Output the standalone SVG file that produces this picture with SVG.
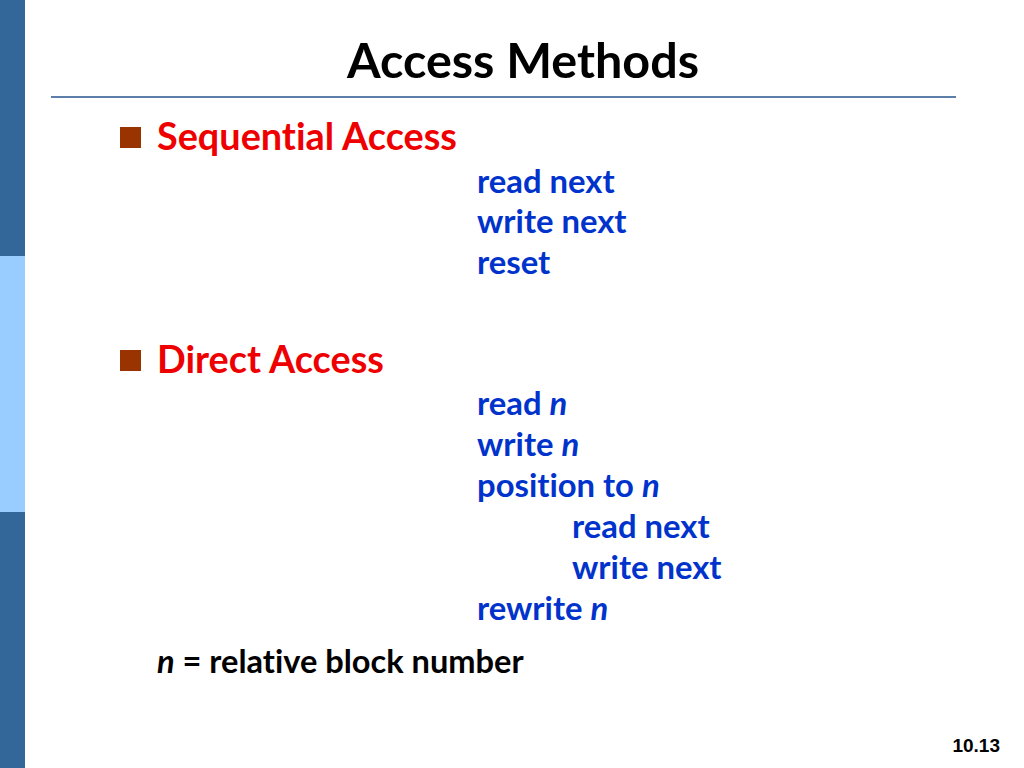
<svg xmlns="http://www.w3.org/2000/svg" width="1024" height="768" viewBox="0 0 1024 768">
<style>
.t{font-family:Lato,"Open Sans","Liberation Sans",sans-serif;font-weight:bold;font-variant-ligatures:none;font-feature-settings:"liga" 0}
.title{font-size:48.5px;fill:#000}
.h{font-size:37.8px;fill:#ee0000}
.b{font-size:32.8px;fill:#0033cc}
.k{font-size:32.6px;fill:#000}
.i{font-style:italic}
.bul{fill:#993300}
</style>
<rect width="1024" height="768" fill="#fff"/>
<g id="sidebar">
<rect x="0" y="0" width="25" height="256" fill="#336699"/>
<rect x="0" y="256" width="25" height="256" fill="#99ccff"/>
<rect x="0" y="512" width="25" height="256" fill="#336699"/>
</g>
<g id="title">
<text class="t title" x="523" y="78" text-anchor="middle">Access Methods</text>
<line x1="51" y1="97" x2="956" y2="97" stroke="#5b7fa8" stroke-width="2"/>
</g>
<g id="sequential">
<rect class="bul" x="120" y="127" width="21" height="21"/>
<text class="t h" x="157" y="150">Sequential Access</text>
<text class="t b" x="477" y="193">read next</text>
<text class="t b" x="477" y="233">write next</text>
<text class="t b" x="477" y="274">reset</text>
</g>
<g id="direct">
<rect class="bul" x="120" y="350" width="21" height="21"/>
<text class="t h" x="157" y="373">Direct Access</text>
<text class="t b" x="477" y="415">read <tspan class="i">n</tspan></text>
<text class="t b" x="477" y="456">write <tspan class="i">n</tspan></text>
<text class="t b" x="477" y="497">position to <tspan class="i">n</tspan></text>
<text class="t b" x="572" y="538">read next</text>
<text class="t b" x="572" y="579">write next</text>
<text class="t b" x="477" y="620">rewrite <tspan class="i">n</tspan></text>
</g>
<g id="note">
<text class="t k" x="157" y="673"><tspan class="i">n</tspan> = relative block number</text>
</g>
<text x="1000" y="752" text-anchor="end" font-family="Liberation Sans,Arial,sans-serif" font-weight="bold" font-size="19" fill="#000">10.13</text>
</svg>
